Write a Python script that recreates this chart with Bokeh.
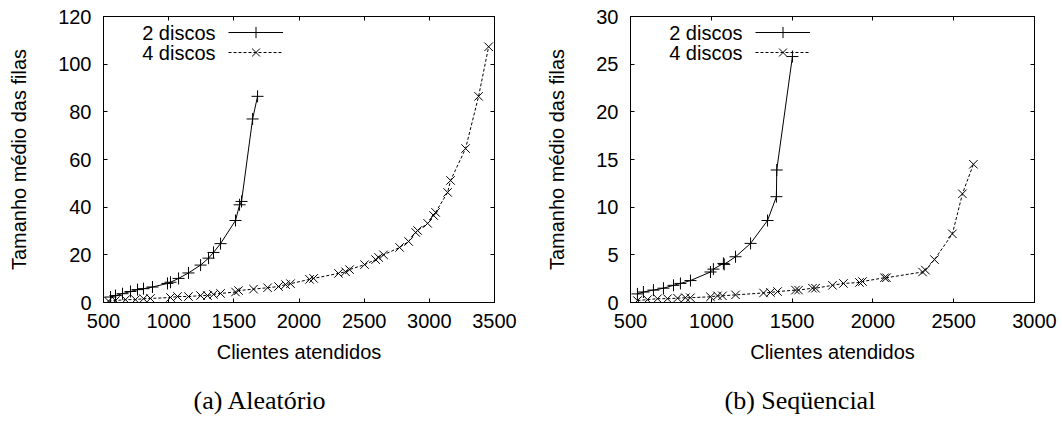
from bokeh.plotting import figure
from bokeh.layouts import row
from bokeh.models import (LinearAxis, FixedTicker, CustomJSTickFormatter, Legend,
                          LegendItem, Label, Title)
from bokeh.core.properties import value
from bokeh.embed import file_html
from bokeh.resources import INLINE

# (a) Aleatório -- random access
rand_2_x = [554, 592, 646, 707, 761, 807, 876, 991, 1014, 1076, 1152, 1245, 1306, 1344,
            1398, 1513, 1544, 1559, 1644, 1682]
rand_2_y = [2.3, 2.9, 3.7, 4.6, 5.4, 5.8, 6.5, 8.0, 8.5, 10.1, 12.4, 15.7, 18.6, 21.0,
            24.7, 34.4, 41.0, 42.4, 77.0, 86.5]
rand_4_x = [538, 592, 669, 745, 807, 860, 1014, 1068, 1152, 1245, 1298, 1344, 1398, 1513,
            1536, 1651, 1759, 1843, 1897, 1935, 2081, 2112, 2303, 2357, 2388, 2503, 2588,
            2611, 2649, 2772, 2841, 2895, 2910, 2987, 3033, 3048, 3140, 3163, 3278, 3378,
            3455]
rand_4_y = [0.6, 0.8, 1.2, 1.2, 1.6, 1.7, 2.1, 2.5, 2.5, 2.9, 2.9, 3.4, 3.8, 4.4,
            5.0, 5.6, 6.2, 6.7, 7.5, 7.9, 9.7, 10.1, 12.2, 12.9, 13.8, 15.9, 18.0,
            18.9, 20.0, 23.1, 25.6, 29.4, 30.2, 33.2, 36.5, 37.8, 46.2, 51.2, 64.6, 86.5,
            107.3]

# (b) Seqüencial -- sequential access
seq_2_x = [543, 580, 642, 704, 766, 809, 871, 995, 1013, 1075, 1080, 1150, 1243, 1348,
           1403, 1405, 1502]
seq_2_y = [0.9, 1.1, 1.3, 1.5, 1.8, 2.0, 2.3, 3.2, 3.5, 4.1, 4.0, 4.8, 6.2, 8.6,
           11.1, 13.9, 25.8]
seq_4_x = [543, 605, 667, 729, 791, 840, 871, 995, 1038, 1069, 1150, 1323, 1366, 1410,
           1521, 1540, 1626, 1645, 1750, 1818, 1917, 1936, 2072, 2084, 2307, 2325, 2381,
           2492, 2554, 2622]
seq_4_y = [0.2, 0.3, 0.4, 0.4, 0.45, 0.5, 0.5, 0.6, 0.7, 0.7, 0.8, 1.0, 1.05, 1.15,
           1.3, 1.3, 1.5, 1.5, 1.8, 2.0, 2.1, 2.2, 2.6, 2.6, 3.2, 3.4, 4.5,
           7.2, 11.4, 14.5]

rand_x_ticks = [500, 1000, 1500, 2000, 2500, 3000, 3500]
rand_y_ticks = [0, 20, 40, 60, 80, 100, 120]
seq_x_ticks = [500, 1000, 1500, 2000, 2500, 3000]
seq_y_ticks = [0, 5, 10, 15, 20, 25, 30]

series_names = ["2 discos", "4 discos"]
x_title = "Clientes atendidos"
y_title = "Tamanho médio das filas"
captions = ["(a) Aleatório", "(b) Seqüencial"]

SANS = "Liberation Sans"
SERIF = "Liberation Serif"


def style_axis(axis, ticks, show_labels):
    axis.ticker = FixedTicker(ticks=ticks)
    axis.major_tick_in = 4
    axis.major_tick_out = 0
    axis.minor_tick_line_color = None
    axis.axis_line_color = "black"
    axis.major_tick_line_color = "black"
    axis.major_label_text_font = SANS
    axis.major_label_text_font_size = "20px"
    axis.major_label_text_color = "black"
    if not show_labels:
        axis.formatter = CustomJSTickFormatter(code="return ''")
        axis.major_label_standoff = 0


def panel(xs2, ys2, xs4, ys4, xr, yr, xticks, yticks, border_l, border_r, caption, cap_off):
    p = figure(width=531, height=438, x_range=xr, y_range=yr,
               output_backend="svg", toolbar_location=None,
               min_border_left=border_l, min_border_right=border_r,
               min_border_top=16, min_border_bottom=136,
               background_fill_color="white", border_fill_color="white")
    p.grid.visible = False
    p.outline_line_color = "black"
    p.outline_line_width = 1

    style_axis(p.xaxis[0], xticks, True)
    style_axis(p.yaxis[0], yticks, True)
    p.xaxis[0].major_label_standoff = 11
    p.yaxis[0].major_label_standoff = 12
    for ax, title, standoff in ((p.xaxis[0], x_title, 10), (p.yaxis[0], y_title, 25)):
        ax.axis_label = title
        ax.axis_label_text_font = SANS
        ax.axis_label_text_font_size = "20px"
        ax.axis_label_text_font_style = "normal"
        ax.axis_label_text_color = "black"
        ax.axis_label_standoff = standoff

    top = LinearAxis()
    style_axis(top, xticks, False)
    p.add_layout(top, "above")
    right = LinearAxis()
    style_axis(right, yticks, False)
    p.add_layout(right, "right")

    l2 = p.line(xs2, ys2, line_color="black", line_width=1)
    s2 = p.scatter(xs2, ys2, marker="cross", size=12, line_color="black", line_width=1)
    l4 = p.line(xs4, ys4, line_color="black", line_width=1, line_dash="3 2")
    s4 = p.scatter(xs4, ys4, marker="x", size=12, line_color="black", line_width=1)

    # gnuplot-style key: text to the left, line sample with marker to the right
    for i, (rends, name) in enumerate((([l2, s2], series_names[0]),
                                       ([l4, s4], series_names[1]))):
        leg = Legend(items=[LegendItem(label=value(""), renderers=rends)],
                     location=(125, 256 - 20 * i), padding=0, margin=0, spacing=0,
                     glyph_width=55, glyph_height=28, label_width=0, label_standoff=0,
                     border_line_color=None, background_fill_color=None)
        p.add_layout(leg)
        p.add_layout(Label(x=112, y=270 - 20 * i, x_units="screen", y_units="screen",
                           text=name, text_align="right", text_baseline="middle",
                           text_font=SANS, text_font_size="20px",
                           text_color="black"))

    # sub-figure caption under the x-axis title
    p.add_layout(Title(text=caption, align="left", offset=cap_off, standoff=36,
                       text_font=SERIF, text_font_size="26px",
                       text_font_style="normal", text_color="black"), "below")
    return p


pa = panel(rand_2_x, rand_2_y, rand_4_x, rand_4_y, (500, 3500), (0, 120),
           rand_x_ticks, rand_y_ticks, 103, 37, captions[0], 90)
pb = panel(seq_2_x, seq_2_y, seq_4_x, seq_4_y, (500, 3000), (0, 30),
           seq_x_ticks, seq_y_ticks, 99, 28, captions[1], 94)

layout = row(pa, pb)
open("out.html", "w").write(file_html(layout, INLINE))
